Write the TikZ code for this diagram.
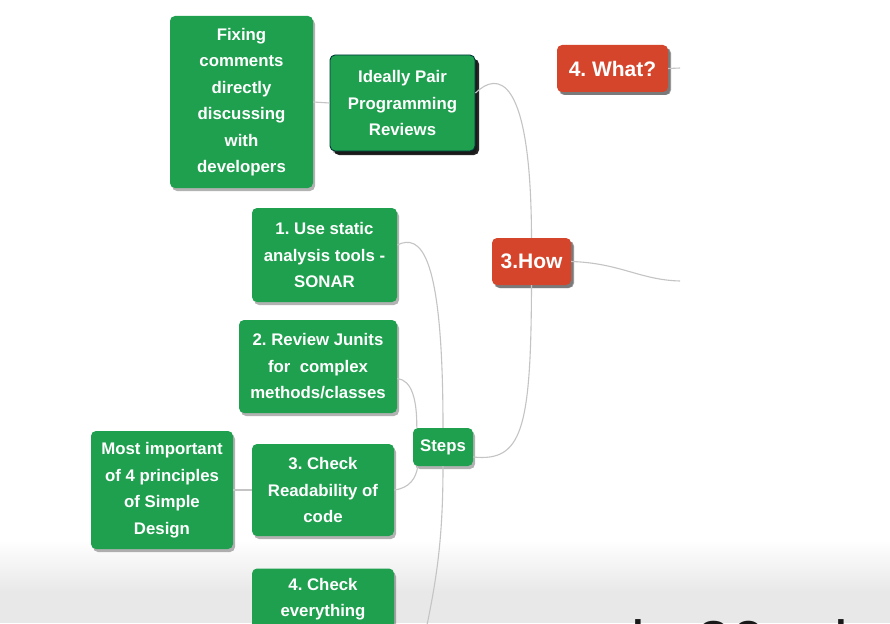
\documentclass[tikz,border=0pt]{standalone}
\usepackage{fontspec}
\setmainfont{Liberation Sans}
\usetikzlibrary{shadows,calc}
\definecolor{mmgreen}{HTML}{1EA04F}
\definecolor{mmred}{HTML}{D5452C}
\definecolor{mmline}{HTML}{C4C4C4}
\definecolor{band}{HTML}{E8E8E8}
\tikzset{
  box/.style={rounded corners=5pt, text=white, align=center, inner sep=2pt,
    font=\frenchspacing\fontsize{16.8}{26.5}\selectfont\bfseries,
    drop shadow={shadow xshift=2pt, shadow yshift=-3pt, opacity=0.3, fill=black}},
  gbox/.style={box, fill=mmgreen},
  rbox/.style={box, fill=mmred, font=\frenchspacing\fontsize{21}{26}\selectfont\bfseries,
    drop shadow={shadow xshift=3pt, shadow yshift=-3pt, opacity=0.55, fill=black!70}},
  selbox/.style={gbox, draw=black!55!teal, line width=0.9pt,
    drop shadow={shadow xshift=4pt, shadow yshift=-4pt, opacity=0.85, fill=black}},
  link/.style={draw=mmline, line width=1.1pt}
}
\begin{document}
\begin{tikzpicture}[x=1pt,y=-1pt]
\useasboundingbox (0,0) rectangle (890,623);
\clip (0,0) rectangle (890,623);
\fill[white] (0,0) rectangle (890,623);
\shade[top color=white, bottom color=band] (0,540) rectangle (890,592);
\fill[band] (0,591.5) rectangle (890,623);

\coordinate (whatR) at (680,68);
\coordinate (howR) at (680,281);
\coordinate (c4) at (418,668);

\node[gbox, minimum width=143pt, minimum height=172pt] (fix) at (241.5,102) {Fixing\\comments\\directly\\discussing\\with\\developers};
\node[selbox, minimum width=145pt, minimum height=96pt] (ideal) at (402.5,103) {Ideally Pair\\Programming\\Reviews};
\node[rbox, minimum width=111pt, minimum height=47pt] (what) at (612.5,68.5) {4. What?};
\node[rbox, minimum width=79pt, minimum height=47pt] (how) at (531.5,261.5) {3.How};
\node[gbox, minimum width=145pt, minimum height=94pt] (use) at (324.5,255) {1. Use static\\analysis tools -\\SONAR};
\node[gbox, minimum width=158pt, minimum height=93pt] (review) at (318,366.5) {2. Review Junits\\for\ \ complex\\methods/classes};
\node[gbox, minimum width=60pt, minimum height=38pt] (steps) at (443,447) {Steps};
\node[gbox, minimum width=142pt, minimum height=92pt] (check3) at (323,490) {3. Check\\Readability of\\code};
\node[gbox, minimum width=142pt, minimum height=118pt] (most) at (162,490) {Most important\\of 4 principles\\of Simple\\Design};
\node[gbox, minimum width=142pt, minimum height=92pt] (check4) at (323,614.5) {4. Check\\everything\\\strut};

\node[anchor=base west, font=\fontsize{62}{62}\selectfont, text=black!90] (sub) at (628,664) {in 20 min};

\path[link] (fix.east) -- (ideal.west);
\path[link] (most.east) -- (check3.west);
\path[link] (what.east) -- (whatR);
\path[link] (how.east) .. controls (620,263) and (640,280) .. (howR);
\path[link] ($(ideal.east)+(0,-10)$) .. controls (497,72) and (531,72) .. (how.north);
\path[link] (how.south) .. controls (531,430) and (522,462) .. ($(steps.east)+(0,10)$);
\path[link] (steps.north) .. controls (443,250) and (420,234) .. ($(use.east)+(0,-10)$);
\path[link] ($(review.east)+(0,12)$) .. controls (412,380) and (417,400) .. ($(steps.north west)+(4,0)$);
\path[link] (check3.east) .. controls (410,488) and (416,478) .. ($(steps.south west)+(5,0)$);
\path[link] (steps.south) .. controls (443,560) and (432,600) .. (c4);
\end{tikzpicture}
\end{document}
